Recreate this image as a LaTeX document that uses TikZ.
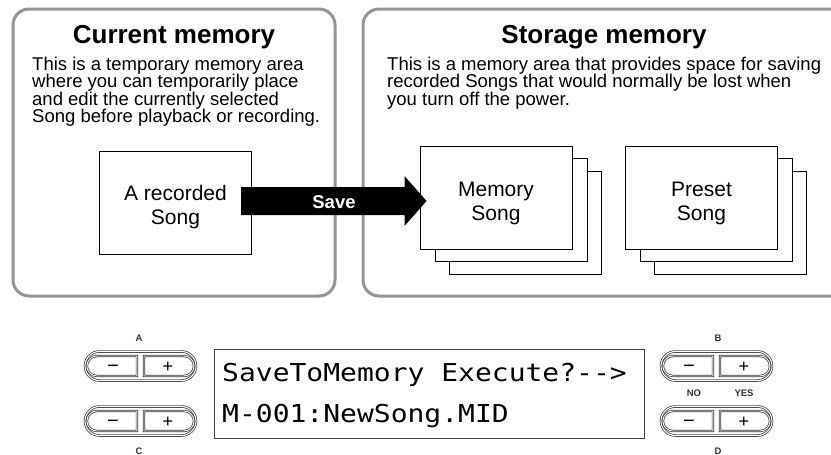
\documentclass[tikz,border=0pt]{standalone}
\usepackage{fontspec}
\setmainfont{Liberation Sans}
\newfontfamily\lcdfont{DejaVu Sans Mono}
\usetikzlibrary{shapes.misc}
\definecolor{boxgray}{HTML}{959595}
\definecolor{btngray}{HTML}{333333}
\begin{document}
\begin{tikzpicture}[x=1pt,y=-1pt,
  area/.style={draw=boxgray, line width=3, rounded corners=16},
  title/.style={font=\fontsize{26}{28}\selectfont\bfseries, anchor=base, inner sep=0},
  body/.style={font=\fontsize{18.5}{17.5}\selectfont, align=left, anchor=north west, inner sep=0},
  song/.style={draw=black, line width=1, fill=white, minimum width=152, minimum height=103, inner sep=0},
  songtext/.style={align=center, font=\fontsize{21}{24}\selectfont, inner sep=0},
  lcd/.style={draw=black!75, line width=1, minimum width=430, minimum height=89, inner sep=0},
  lcdtext/.style={font=\lcdfont\fontsize{28}{30}\selectfont, anchor=west, inner sep=0},
  pill/.style={rounded rectangle, minimum width=111, minimum height=29, inner sep=0,
    draw=btngray, line width=0.7, double=white, double distance=1.1},
  lbtn/.style={rounded rectangle, rounded rectangle right arc=none, minimum width=50, minimum height=20,
    inner sep=0, draw=btngray, line width=0.7, double=white, double distance=0.9,
    font=\fontsize{20}{20}\selectfont, text height=12.4, text depth=0},
  rbtn/.style={rounded rectangle, rounded rectangle left arc=none, minimum width=50, minimum height=20,
    inner sep=0, draw=btngray, line width=0.7, double=white, double distance=0.9,
    font=\fontsize{18}{18}\selectfont, text height=12, text depth=0},
  blabel/.style={font=\fontsize{9.5}{10}\selectfont\bfseries, text=btngray, inner sep=0}
]
\fill[white] (0,0) rectangle (831,455);
\useasboundingbox (0,0) rectangle (831,455);

% memory areas
\draw[area] (13,9) rectangle (335,296);
\draw[area] (833,9) -- (363,9) -- (363,296) -- (833,296);

\node[title] (curt) at (174,43) {Current memory};
\node[title] (stot) at (604,43) {Storage memory};

\node[body] (curb) at (32,56.5) {This is a temporary memory area\\
where you can temporarily place\\
and edit the currently selected\\
Song before playback or recording.};
\node[body] (stob) at (387,56.5) {This is a memory area that provides space for saving\\
recorded Songs that would normally be lost when\\
you turn off the power.};

% recorded song
\node[song] (rec) at (175.5,202.5) {};
\node[songtext] (rect) at (175.5,207.5) {A recorded\\Song};

% stacks
\node[song] (mem3) at (525,223) {};
\node[song] (mem2) at (511,210) {};
\node[song] (mem1) at (496,197.5) {};
\node[songtext] (memt) at (496,203) {Memory\\Song};
\node[song] (pre3) at (730.5,223) {};
\node[song] (pre2) at (716,210) {};
\node[song] (pre1) at (701.5,197.5) {};
\node[songtext] (pret) at (701.5,203) {Preset\\Song};

% save arrow (yshift is in page units: negative = down)
\coordinate (tail) at ([xshift=-11,yshift=1.5]rec.east);
\coordinate (tip) at ([xshift=7,yshift=-3.5]mem1.west);
\fill[black] ([yshift=14]tail) -- ([xshift=-22,yshift=14]tip) -- ([xshift=-22,yshift=25]tip) --
  (tip) -- ([xshift=-22,yshift=-25]tip) -- ([xshift=-22,yshift=-14]tip) -- ([yshift=-14]tail) -- cycle;
\node[font=\fontsize{18.5}{20}\selectfont\bfseries, text=white, inner sep=0] (save) at (334,202) {Save};

% LCD
\node[lcd] (lcd) at (429,393.5) {};
\node[lcdtext] (l1) at (222,375) {\scalebox{1}[0.88]{SaveToMemory Execute?-->}};
\node[lcdtext] (l2) at (222,416.5) {\scalebox{1}[0.88]{M-001:NewSong.MID}};

% buttons
\foreach \nm/\xc/\yc in {A/140.5/366, C/140.5/421, B/716.5/366, D/716.5/421}{
  \node[pill] (pill\nm) at (\xc,\yc) {};
  \node[lbtn] (minus\nm) at (\xc-27.5,\yc) {\char"2212};
  \node[rbtn] (plus\nm) at (\xc+27.5,\yc) {+};
}
\node[blabel] (labA) at (139,338) {A};
\node[blabel] (labC) at (139,451) {C};
\node[blabel] (labB) at (718,338) {B};
\node[blabel] (labD) at (718,451) {D};
\node[blabel] (labNO) at (694,393) {NO};
\node[blabel] (labYES) at (744,393) {YES};
\end{tikzpicture}
\end{document}
